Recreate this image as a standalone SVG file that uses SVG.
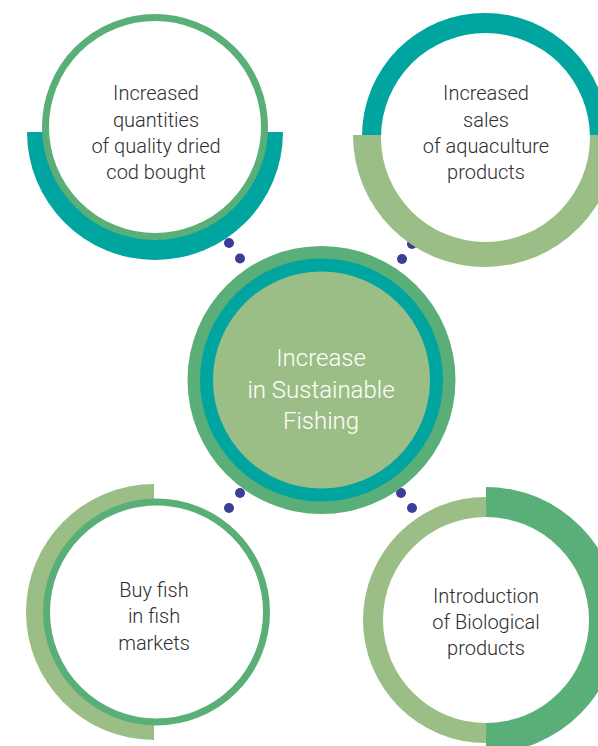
<svg xmlns="http://www.w3.org/2000/svg" width="598" height="746" viewBox="0 0 598 746">
<style>
.teal{fill:#00A59F}
.green{fill:#5AAE78}
.light{fill:#9BBE86}
.ring{fill:#FFFFFF;stroke:#5AAE78;stroke-width:7}
.white{fill:#FFFFFF}
.dot{fill:#3D3C96}
.t{font-family:Roboto,"Liberation Sans",sans-serif;font-weight:300;font-size:20px;fill:#2E2E2E;text-anchor:middle}
.c{font-family:Roboto,"Liberation Sans",sans-serif;font-weight:300;font-size:24px;fill:#FFFFFF;text-anchor:middle}
</style>
<rect width="598" height="746" fill="#FFFFFF"/>
<g id="node-top-left">
<path class="teal" d="M27,132 A128,128 0 0 0 283,132 Z"/>
<circle class="ring" cx="155" cy="127" r="109.5"/>
<text class="t" x="156" y="100">Increased</text>
<text class="t" x="156" y="127">quantities</text>
<text class="t" x="156" y="153">of quality dried</text>
<text class="t" x="156" y="179">cod bought</text>
</g>
<g id="connectors">
<circle class="dot" cx="229" cy="243" r="5"/>
<circle class="dot" cx="240" cy="258.5" r="5"/>
<circle class="dot" cx="412" cy="244" r="5"/>
<circle class="dot" cx="402" cy="259" r="5"/>
<circle class="dot" cx="240" cy="493" r="5"/>
<circle class="dot" cx="229" cy="508" r="5"/>
<circle class="dot" cx="401" cy="493" r="5"/>
<circle class="dot" cx="412" cy="508" r="5"/>
</g>
<g id="node-top-right">
<circle class="teal" cx="485" cy="136" r="123"/>
<path class="light" d="M353,135 A132,132 0 0 0 617,135 Z"/>
<circle class="white" cx="485.5" cy="137.5" r="104.5"/>
<text class="t" x="486" y="100">Increased</text>
<text class="t" x="486" y="127">sales</text>
<text class="t" x="486" y="153">of aquaculture</text>
<text class="t" x="486" y="179">products</text>
</g>
<g id="node-center">
<circle class="green" cx="321.5" cy="380" r="134"/>
<circle class="teal" cx="321.5" cy="380" r="121.5"/>
<circle class="light" cx="321.5" cy="380" r="108.5"/>
<text class="c" x="321" y="366">Increase</text>
<text class="c" x="321" y="398">in Sustainable</text>
<text class="c" x="321" y="429">Fishing</text>
</g>
<g id="node-bottom-left">
<path class="light" d="M154,484 A128,128 0 0 0 154,740 Z"/>
<circle class="ring" cx="156.5" cy="612" r="110"/>
<text class="t" x="154" y="597">Buy fish</text>
<text class="t" x="154" y="623">in fish</text>
<text class="t" x="154" y="650">markets</text>
</g>
<g id="node-bottom-right">
<circle class="light" cx="486" cy="620" r="123"/>
<path class="green" d="M486,487 A133,133 0 0 1 486,753 Z"/>
<circle class="white" cx="486" cy="620" r="103"/>
<text class="t" x="486" y="603">Introduction</text>
<text class="t" x="486" y="629">of Biological</text>
<text class="t" x="486" y="655">products</text>
</g>
</svg>
